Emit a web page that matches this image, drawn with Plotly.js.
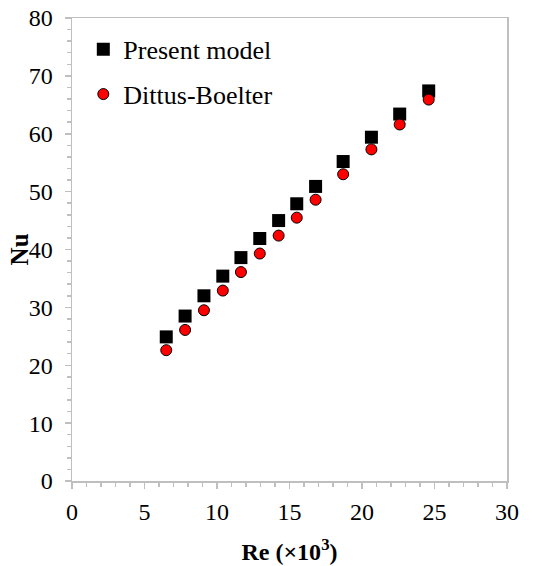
<!DOCTYPE html>
<html>
<head>
<meta charset="utf-8">
<script src="https://cdn.plot.ly/plotly-3.0.1.min.js"></script>
<style>html,body{margin:0;padding:0;background:#fff;}#chart{width:542px;height:566px;}</style>
</head>
<body>
<div id="chart"></div>
<script>
const re = [6.5, 7.8, 9.1, 10.4, 11.65, 12.95, 14.25, 15.5, 16.8, 18.7, 20.65, 22.6, 24.6];
const nuModel = [24.9, 28.5, 32.0, 35.4, 38.6, 41.9, 45.0, 47.9, 50.9, 55.2, 59.4, 63.4, 67.4];
const nuDB = [22.6, 26.1, 29.5, 32.9, 36.1, 39.3, 42.4, 45.5, 48.6, 53.0, 57.3, 61.6, 65.9];
const seriesNames = ["Present model", "Dittus-Boelter"];
const xTitle = "Re (×10<sup>3</sup>)";
const yTitle = "Nu";

const serif = "Liberation Serif";
const gray = "#bfbfbf";

const traces = [
  {x: re, y: nuModel, name: seriesNames[0], mode: "markers", type: "scatter",
   legendgroup: "a",
   marker: {symbol: "square", size: 13, color: "#000000", line: {width: 0}}},
  {x: re, y: nuDB, name: seriesNames[1], mode: "markers", type: "scatter",
   legendgroup: "b",
   marker: {symbol: "circle", size: 11, color: "#ff0000", line: {width: 1, color: "#000000"}}}
];

const layout = {
  width: 542, height: 566,
  margin: {l: 72, r: 35, t: 18, b: 85},
  paper_bgcolor: "#fff", plot_bgcolor: "#fff",
  font: {family: serif, size: 24, color: "#000"},
  showlegend: true,
  legend: {x: 0.026, y: 0.983, xanchor: "left", yanchor: "top",
           bgcolor: "rgba(0,0,0,0)", font: {family: serif, size: 26, color: "#000"},
           tracegroupgap: 8, traceorder: "grouped", itemwidth: 30},
  xaxis: {
    range: [0, 30], dtick: 5, tick0: 0, showgrid: false, zeroline: false,
    showline: true, linecolor: gray, linewidth: 1.5, mirror: true,
    ticks: "outside", ticklen: 6, tickcolor: gray, tickwidth: 1.5,
    minor: {dtick: 1, ticks: "outside", ticklen: 4, tickcolor: gray, tickwidth: 1.5, showgrid: false},
    tickfont: {family: serif, size: 24, color: "#000"},
    ticklabelstandoff: 3,
    title: {text: xTitle, font: {family: serif, size: 24, color: "#000", weight: "bold"}, standoff: 19},
    fixedrange: true
  },
  yaxis: {
    range: [0, 80], dtick: 10, tick0: 0, showgrid: false, zeroline: false,
    showline: true, linecolor: gray, linewidth: 1.5, mirror: true,
    ticks: "outside", ticklen: 6, tickcolor: gray, tickwidth: 1.5,
    minor: {dtick: 2, ticks: "outside", ticklen: 4, tickcolor: gray, tickwidth: 1.5, showgrid: false},
    tickfont: {family: serif, size: 24, color: "#000"},
    ticklabelstandoff: 7,
    fixedrange: true
  },
  annotations: [
    {text: "<b>" + yTitle + "</b>", xref: "paper", yref: "paper", x: -0.121, y: 0.501,
     xanchor: "center", yanchor: "middle", textangle: -90, showarrow: false,
     font: {family: serif, size: 25, color: "#000"}}
  ]
};

Plotly.newPlot("chart", traces, layout, {displayModeBar: false, staticPlot: true});
</script>
</body>
</html>
